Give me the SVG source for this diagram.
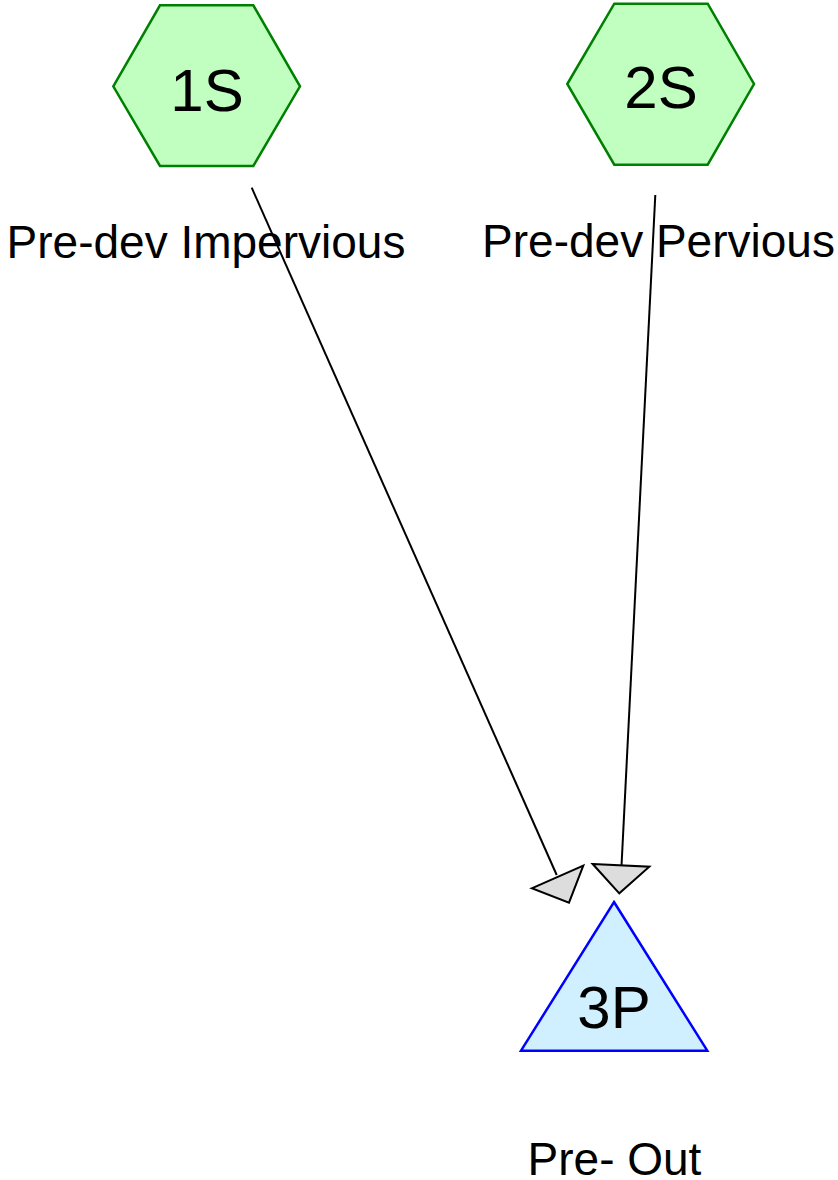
<svg xmlns="http://www.w3.org/2000/svg" width="838" height="1180" viewBox="0 0 838 1180">
<style>
.hex{fill:#c0ffc0;stroke:#008000;stroke-width:2.5}
.tri{fill:#d0f0ff;stroke:#0000ff;stroke-width:2.5}
.lbl{font-family:"Liberation Sans",Arial,sans-serif;fill:#000;text-anchor:middle}
.big{font-size:60px}
.small{font-size:46px}
.edge{stroke:#000;stroke-width:2;fill:none}
.head{fill:#dddddd;stroke:#000;stroke-width:2;stroke-linejoin:miter}
</style>
<rect width="838" height="1180" fill="#fff"/>
<g id="connectors">
<line class="edge" x1="251.7" y1="187.7" x2="556.7" y2="875"/>
<polygon class="head" points="531.7,888.3 583.3,865.7 569,902.7"/>
<line class="edge" x1="655.3" y1="195" x2="621.5" y2="866"/>
<polygon class="head" points="592.7,864 649.3,866.7 619.3,893.3"/>
</g>
<g id="node-1S">
<polygon class="hex" points="113.3,86.3 160,5.3 253.3,5.3 300,86.3 253.3,166 160,166"/>
<text class="lbl big" x="207" y="111">1S</text>
<text class="lbl small" x="206" y="257.5">Pre-dev Impervious</text>
</g>
<g id="node-2S">
<polygon class="hex" points="567.3,84 614.3,3.7 707.7,3.7 754,84 707.7,164.7 614.3,164.7"/>
<text class="lbl big" x="661" y="108.3">2S</text>
<text class="lbl small" x="658.5" y="256.5">Pre-dev Pervious</text>
</g>
<g id="node-3P">
<polygon class="tri" points="614,902 707.3,1050.7 521,1050.7"/>
<text class="lbl big" x="614" y="1028.3">3P</text>
<text class="lbl small" x="614.5" y="1175">Pre- Out</text>
</g>
</svg>
